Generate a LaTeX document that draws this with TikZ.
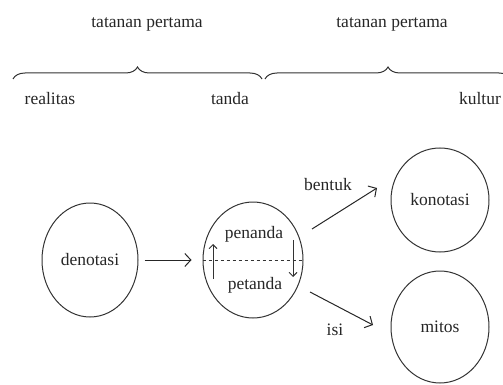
\documentclass[tikz,border=0pt]{standalone}
\usepackage{fontspec}
\setmainfont{Liberation Serif}
\usetikzlibrary{shapes.geometric,arrows.meta,decorations.pathreplacing}
\begin{document}
\begin{tikzpicture}[x=1pt,y=-1pt,
  every node/.style={font=\fontsize{17.5}{20}\selectfont, text=black!85},
  circ/.style={draw=black!80, line width=1pt, ellipse, inner sep=0pt},
  arr/.style={draw=black!85, line width=1pt, -{Straight Barb[length=6pt,width=13pt]}},
  thinarr/.style={draw=black!80, line width=0.9pt, -{Straight Barb[length=4pt,width=8pt]}},
  lbl/.style={inner sep=0pt},
  bracestyle/.style={draw=black!80, line width=1pt, decorate, decoration={brace, amplitude=12pt, aspect=0.5}},
]
\useasboundingbox (0,0) rectangle (503,385);
% top labels
\node[lbl] (t1) at (147,24) {tatanan pertama};
\node[lbl] (t2) at (392,24) {tatanan pertama};
% braces
\coordinate (b1s) at (13,79);
\coordinate (b1e) at (262,79);
\draw[bracestyle] (b1s) -- (b1e);
\begin{scope}
  \clip (0,0) rectangle (503,385);
  \coordinate (b2s) at (265,79);
  \coordinate (b2e) at (511,79);
  \draw[bracestyle] (b2s) -- (b2e);
\end{scope}
% labels under braces
\node[lbl] (realitas) at (50,99) {realitas};
\node[lbl] (tanda) at (230,99) {tanda};
\node[lbl] (kultur) at (480,99) {kultur};
% ellipses
\node[circ, minimum width=96pt, minimum height=114pt] (den) at (90,260) {denotasi};
\node[circ, minimum width=100pt, minimum height=116pt] (mid) at (253,260) {};
\node[circ, minimum width=98pt, minimum height=104pt] (kon) at (440,200) {konotasi};
\node[circ, minimum width=98pt, minimum height=112pt] (mit) at (440,327) {mitos};
% inside mid
\node[lbl] (pen) at (254,234) {penanda};
\node[lbl] (pet) at (255,285) {petanda};
\draw[dashed, draw=black!80, line width=0.9pt] (mid.west) -- (mid.east);
\coordinate (upS) at (213,279);
\coordinate (upE) at (213,244);
\coordinate (dnS) at (293,240);
\coordinate (dnE) at (293,277);
\draw[thinarr] (upS) -- (upE);
\draw[thinarr] (dnS) -- (dnE);
% connectors
\draw[arr, shorten <=6pt, shorten >=11pt] (den.east) -- (mid.west);
\coordinate (bS) at (312,229);
\coordinate (bE) at (377,188);
\draw[arr] (bS) -- (bE);
\node[lbl] (bentuk) at (328,185) {bentuk};
\coordinate (iS) at (310,292);
\coordinate (iE) at (373,325);
\draw[arr] (iS) -- (iE);
\node[lbl] (isi) at (335,330) {isi};
\end{tikzpicture}
\end{document}
